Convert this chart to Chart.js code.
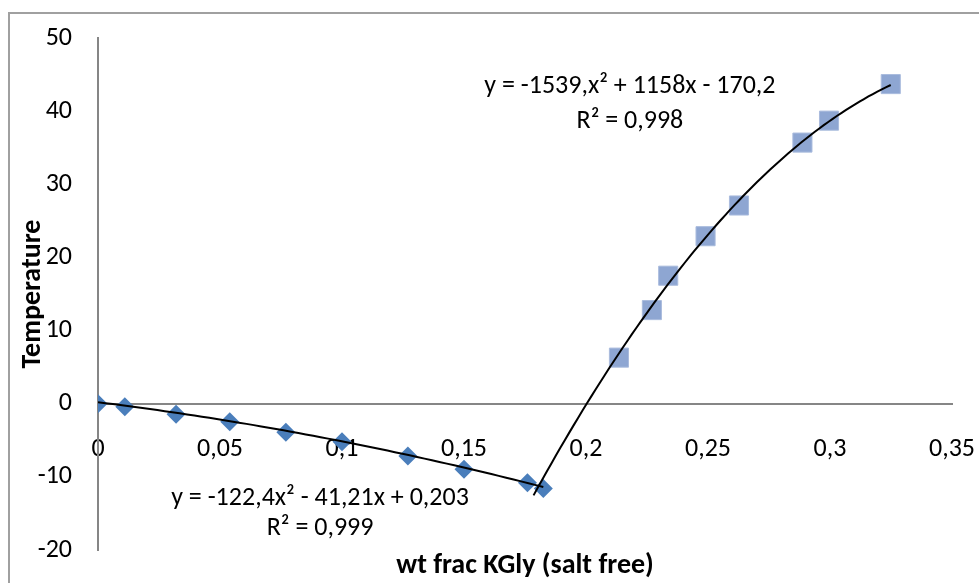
<!DOCTYPE html>
<html>
<head>
<meta charset="utf-8">
<script src="https://cdn.jsdelivr.net/npm/chart.js@4.4.0/dist/chart.umd.min.js"></script>
<style>
  html, body { margin: 0; padding: 0; background: #fff; }
  #wrap { width: 979px; height: 583px; position: relative; }
</style>
</head>
<body>
<div id="wrap"><canvas id="chart" width="979" height="583"></canvas></div>
<script>
// Measured points: low branch (diamonds) and high branch (squares)
const series1X = [0, 0.011, 0.032, 0.054, 0.077, 0.100, 0.127, 0.150, 0.176, 0.1825];
const series1Y = [0, -0.4, -1.45, -2.45, -3.9, -5.2, -7.15, -8.95, -10.8, -11.6];
const series2X = [0.2135, 0.227, 0.2337, 0.249, 0.2627, 0.2887, 0.2996, 0.3249];
const series2Y = [6.3, 12.8, 17.5, 22.9, 27.1, 35.7, 38.7, 43.7];

// Polynomial trendlines (a x^2 + b x + c) and the x span each one covers
const fit1Coef = [-122.4, -41.21, 0.203];
const fit1Span = [0, 0.1825];
const fit2Coef = [-1539, 1158, -170.2];
const fit2Span = [0.1785, 0.3249];

// Trendline equation labels and their anchor points in data units
const eq1Lines = ['y = -1539,x\u00B2 + 1158x - 170,2', 'R\u00B2 = 0,998'];
const eq1Anchor = [0.218, 43.4, 38.6];
const eq2Lines = ['y = -122,4x\u00B2 - 41,21x + 0,203', 'R\u00B2 = 0,999'];
const eq2Anchor = [0.091, -12.9, -17.0];

// Axis tick labels
const xTickLabels = ['0', '0,05', '0,1', '0,15', '0,2', '0,25', '0,3', '0,35'];
const yTickLabels = ['-20', '-10', '0', '10', '20', '30', '40', '50'];

const FONT = 'Carlito, Lato, "Open Sans", sans-serif';

function toPoints(xs, ys) {
  return xs.map((x, i) => ({ x: x, y: ys[i] }));
}

function curve(coef, span, steps) {
  const pts = [];
  for (let i = 0; i <= steps; i++) {
    const x = span[0] + (span[1] - span[0]) * i / steps;
    pts.push({ x: x, y: coef[0] * x * x + coef[1] * x + coef[2] });
  }
  return pts;
}

// Outer frame of the chart object
const framePlugin = {
  id: 'frame',
  beforeDraw(chart) {
    const ctx = chart.ctx;
    ctx.save();
    ctx.fillStyle = '#ffffff';
    ctx.fillRect(0, 0, chart.width, chart.height);
    ctx.strokeStyle = '#a0a0a0';
    ctx.lineWidth = 2;
    ctx.strokeRect(9, 13, chart.width + 20, chart.height + 20);
    ctx.restore();
  }
};

// Trendline equations written next to each curve
const equationPlugin = {
  id: 'equations',
  afterDatasetsDraw(chart) {
    const ctx = chart.ctx;
    const xs = chart.scales.x, ys = chart.scales.y;
    ctx.save();
    ctx.fillStyle = '#000000';
    ctx.font = '26px ' + FONT;
    ctx.textAlign = 'center';
    ctx.textBaseline = 'middle';
    [[eq1Lines, eq1Anchor], [eq2Lines, eq2Anchor]].forEach(([lines, a]) => {
      const px = xs.getPixelForValue(a[0]);
      ctx.fillText(lines[0], px, ys.getPixelForValue(a[1]));
      ctx.fillText(lines[1], px, ys.getPixelForValue(a[2]));
    });
    ctx.restore();
  }
};

new Chart(document.getElementById('chart'), {
  type: 'scatter',
  data: {
    datasets: [
      {
        data: curve(fit1Coef, fit1Span, 60),
        showLine: true,
        borderColor: '#000000',
        borderWidth: 2,
        pointRadius: 0,
        fill: false,
        order: 0
      },
      {
        data: curve(fit2Coef, fit2Span, 80),
        showLine: true,
        borderColor: '#000000',
        borderWidth: 2,
        pointRadius: 0,
        fill: false,
        order: 0
      },
      {
        data: toPoints(series1X, series1Y),
        pointStyle: 'rectRot',
        pointRadius: 9.5,
        backgroundColor: '#4A7EBB',
        borderColor: '#4A7EBB',
        borderWidth: 0,
        order: 1
      },
      {
        data: toPoints(series2X, series2Y),
        pointStyle: 'rect',
        pointRadius: 13.5,
        backgroundColor: '#8EA6D2',
        borderColor: '#A9BBDD',
        borderWidth: 1,
        order: 1
      }
    ]
  },
  options: {
    responsive: false,
    animation: false,
    devicePixelRatio: 1,
    layout: { padding: { left: 0, top: 38, right: 27, bottom: 3 } },
    plugins: {
      legend: { display: false },
      tooltip: { enabled: false },
      title: {
        display: true,
        position: 'bottom',
        fullSize: false,
        text: 'wt frac KGly (salt free)',
        color: '#000000',
        font: { family: FONT, size: 28, weight: 'bold', lineHeight: 1.0 },
        padding: { top: 2, bottom: 0 }
      }
    },
    scales: {
      x: {
        type: 'linear',
        position: { y: 0 },
        min: 0,
        max: 0.35,
        grid: { display: false, drawTicks: false },
        border: { display: true, color: '#868686', width: 2 },
        ticks: {
          stepSize: 0.05,
          autoSkip: false,
          maxRotation: 0,
          padding: 30,
          color: '#000000',
          font: { family: FONT, size: 26 },
          callback: (v) => xTickLabels[Math.round(v / 0.05)]
        },
        afterFit(scale) {
          scale.height = 0;
          scale.paddingLeft = 0;
          scale.paddingRight = 0;
        }
      },
      y: {
        type: 'linear',
        position: 'left',
        min: -20,
        max: 50,
        grid: { display: false, drawTicks: false },
        border: { display: true, color: '#868686', width: 2 },
        ticks: {
          stepSize: 10,
          padding: 26,
          color: '#000000',
          font: { family: FONT, size: 26 },
          callback: (v) => yTickLabels[Math.round((v + 20) / 10)]
        },
        title: {
          display: true,
          text: 'Temperature',
          color: '#000000',
          font: { family: FONT, size: 28, weight: 'bold', lineHeight: 1.2 },
          padding: { top: 16, bottom: 0 }
        },
        afterFit(scale) {
          scale.width = 98;
          scale.paddingTop = 0;
          scale.paddingBottom = 0;
        }
      }
    }
  },
  plugins: [framePlugin, equationPlugin]
});
</script>
</body>
</html>
